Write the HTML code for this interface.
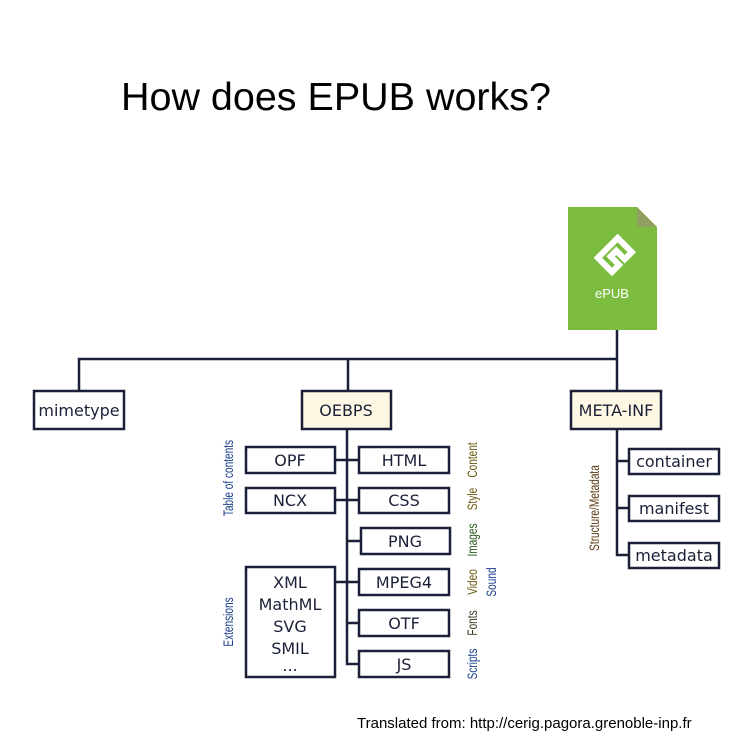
<!DOCTYPE html>
<html><head><meta charset="utf-8"><style>
html,body{margin:0;padding:0;background:#fff;}
svg{display:block;}
.b{fill:#fff;stroke:#1b2038;stroke-width:2.5;}
.y{fill:#fdf7e4;stroke:#1b2038;stroke-width:2.5;}
.l{stroke:#1b2038;stroke-width:2.5;fill:none;}
.t{font-family:"DejaVu Sans","Liberation Sans",sans-serif;font-size:16px;fill:#1b2038;text-anchor:middle;}
.v{font-family:"Liberation Sans",sans-serif;font-size:14px;text-anchor:middle;}
</style></head><body>
<svg width="746" height="742" viewBox="0 0 746 742">
<text x="121" y="110" font-family="Liberation Sans,sans-serif" font-size="39" textLength="430" lengthAdjust="spacingAndGlyphs">How does EPUB works?</text>
<path d="M568 207 H637 L657 227 V330 H568 Z" fill="#7cbd40"/>
<path d="M637 207 L657 227 H637 Z" fill="#8fa060"/>
<g transform="translate(612,255) rotate(45)">
<path d="M-8 -16 H12 V-6 H0 V2 H12 V12 H-8 Z" fill="none" stroke="#fff" stroke-width="6" stroke-linejoin="miter"/>
</g>
<text x="612" y="298" font-family="Liberation Sans,sans-serif" font-size="13" fill="#fff" text-anchor="middle">ePUB</text>
<path class="l" d="M79 391 V359 H617 M617 330 V391 M348 359 V391"/>
<rect class="b" x="34" y="391" width="90" height="38"/>
<text class="t" x="79" y="416">mimetype</text>
<rect class="y" x="302" y="391" width="89" height="38"/>
<text class="t" x="346" y="416">OEBPS</text>
<rect class="y" x="571" y="391" width="90" height="38"/>
<text class="t" x="616" y="416">META-INF</text>
<path class="l" d="M347 429 V664 H359 M335 460 H359 M335 500 H359 M347 541 H361 M335 582 H359 M347 623 H359"/>
<rect class="b" x="246" y="447" width="89" height="26"/><text class="t" x="290" y="466">OPF</text>
<rect class="b" x="359" y="447" width="90" height="26"/><text class="t" x="404" y="466">HTML</text>
<rect class="b" x="246" y="488" width="89" height="25"/><text class="t" x="290" y="506">NCX</text>
<rect class="b" x="359" y="488" width="90" height="25"/><text class="t" x="404" y="506">CSS</text>
<rect class="b" x="361" y="528" width="89" height="26"/><text class="t" x="405" y="547">PNG</text>
<rect class="b" x="246" y="567" width="89" height="110"/>
<text class="t" x="290" y="588">XML</text>
<text class="t" x="290" y="610">MathML</text>
<text class="t" x="290" y="632">SVG</text>
<text class="t" x="290" y="654">SMIL</text>
<text class="t" x="290" y="671">...</text>
<rect class="b" x="359" y="569" width="90" height="26"/><text class="t" x="404" y="588">MPEG4</text>
<rect class="b" x="359" y="610" width="90" height="26"/><text class="t" x="404" y="629">OTF</text>
<rect class="b" x="359" y="651" width="90" height="26"/><text class="t" x="404" y="670">JS</text>
<path class="l" d="M617 429 V555 H629 M617 461 H629 M617 508 H629"/>
<rect class="b" x="629" y="449" width="90" height="25"/><text class="t" x="674" y="467">container</text>
<rect class="b" x="629" y="496" width="90" height="25"/><text class="t" x="674" y="514">manifest</text>
<rect class="b" x="629" y="543" width="90" height="25"/><text class="t" x="674" y="561">metadata</text>
<text class="v" transform="translate(233,478) rotate(-90) scale(0.72,1)" fill="#1a3f8a">Table of contents</text>
<text class="v" transform="translate(233,622) rotate(-90) scale(0.72,1)" fill="#1a3f8a">Extensions</text>
<text class="v" transform="translate(477,460) rotate(-90) scale(0.72,1)" fill="#6b5a10">Content</text>
<text class="v" transform="translate(477,499) rotate(-90) scale(0.72,1)" fill="#6b5a10">Style</text>
<text class="v" transform="translate(477,540) rotate(-90) scale(0.72,1)" fill="#2a5a20">Images</text>
<text class="v" transform="translate(477,582) rotate(-90) scale(0.72,1)" fill="#6b5a10">Video</text>
<text class="v" transform="translate(496,582) rotate(-90) scale(0.72,1)" fill="#1a3f8a">Sound</text>
<text class="v" transform="translate(477,623) rotate(-90) scale(0.72,1)" fill="#3a3a20">Fonts</text>
<text class="v" transform="translate(477,664) rotate(-90) scale(0.72,1)" fill="#1a3f8a">Scripts</text>
<text class="v" transform="translate(599,508) rotate(-90) scale(0.72,1)" fill="#5a3a10">Structure/Metadata</text>
<text x="357" y="728" font-family="Liberation Sans,sans-serif" font-size="15" fill="#000">Translated from: http://cerig.pagora.grenoble-inp.fr</text>
</svg>
</body></html>
